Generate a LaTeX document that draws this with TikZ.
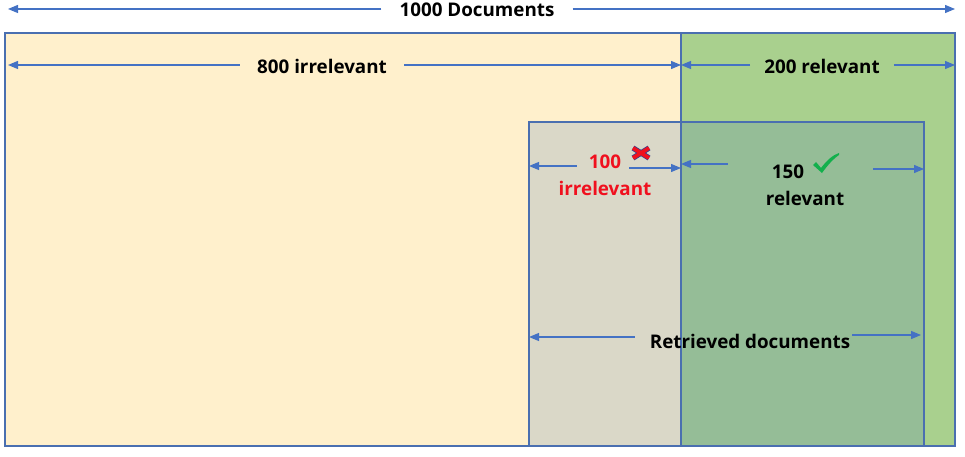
\documentclass[tikz,border=0pt]{standalone}
\usepackage{fontspec}
\setmainfont{Open Sans}
\usetikzlibrary{arrows.meta}
\definecolor{paleyellow}{HTML}{FFF0CC}
\definecolor{relgreen}{HTML}{A9D08E}
\definecolor{retgray}{HTML}{DAD8C8}
\definecolor{retgreen}{HTML}{95BD97}
\definecolor{edgeblue}{HTML}{4A6FB0}
\definecolor{arrowblue}{HTML}{4472C4}
\definecolor{xred}{HTML}{F0101E}
\definecolor{xshade}{HTML}{3A3F8A}
\definecolor{tickgreen}{HTML}{12B04C}
\tikzset{
  region/.style={draw=edgeblue, line width=1.2pt},
  dim/.style={draw=arrowblue, line width=1.2pt, -{Triangle[length=10pt,width=8pt]}},
  lbl/.style={font=\bfseries\fontsize{18.8}{21}\selectfont, text=black, inner ysep=0pt, inner xsep=17pt},
  redlbl/.style={font=\bfseries\fontsize{18.8}{21}\selectfont, text=xred, inner sep=0pt},
}
\begin{document}
\begin{tikzpicture}[x=1pt, y=-1pt]
\useasboundingbox (0,0) rectangle (965,457);
% collection areas
\fill[paleyellow] (5,33) rectangle (681,446);
\fill[relgreen] (681,33) rectangle (955,446);
\fill[retgray] (529,122) rectangle (681,446);
\fill[retgreen] (681,122) rectangle (924,446);
\draw[region] (5,33) rectangle (955,446);
\draw[region] (681,33) -- (681,446);
\draw[region] (529,122) rectangle (924,446);

% arrow end points
\coordinate (allL) at (8,9);
\coordinate (allR) at (955,9);
\coordinate (irrL) at (8,65);
\coordinate (irrR) at (681,65);
\coordinate (relL) at (681,65);
\coordinate (relR) at (955,65);
\coordinate (rirL) at (529,166);
\coordinate (rirR) at (681,168);
\coordinate (rrlL) at (681,164);
\coordinate (rrlR) at (924,169);
\coordinate (retL) at (529,337);
\coordinate (retR) at (921,335);

% labels
\node[lbl, inner xsep=18pt] (all) at (477,10) {1000 Documents};
\node[lbl] (irr) at (322,66) {800 irrelevant};
\node[lbl, inner xsep=14pt] (rel) at (822,66) {200 relevant};
\node[lbl, inner xsep=0pt] (ret) at (750,341) {Retrieved documents};
\node[redlbl] (hundred) at (605,162) {100};
\node[redlbl] (irrtxt) at (605,188) {irrelevant};
\node[lbl, inner xsep=0pt] (onefifty) at (788,172) {150};
\node[lbl, inner xsep=0pt] (reltxt) at (805,198) {relevant};

% dimension arrows
\draw[dim] (all.west |- allL) -- (allL);
\draw[dim] (all.east |- allR) -- (allR);
\draw[dim] (irr.west |- irrL) -- (irrL);
\draw[dim] (irr.east |- irrR) -- (irrR);
\draw[dim] (rel.west |- relL) -- (relL);
\draw[dim] (rel.east |- relR) -- (relR);
\draw[dim] ([xshift=-12pt]hundred.west |- rirL) -- (rirL);
\draw[dim] ([xshift=8pt]hundred.east |- rirR) -- (rirR);
\draw[dim] ([xshift=-44pt]onefifty.west |- rrlL) -- (rrlL);
\draw[dim] ([xshift=69pt]onefifty.east |- rrlR) -- (rrlR);
\draw[dim] ([xshift=-15pt]ret.west |- retL) -- (retL);
\draw[dim] ([xshift=2pt]ret.east |- retR) -- (retR);

% cross mark
\begin{scope}[shift={(641,153)}]
  \draw[xshade, line width=5.4pt] (-8,-5) -- (8,5) (-8,5) -- (8,-5);
  \draw[xred, line width=3.8pt] (-8,-5) -- (8,5) (-8,5) -- (8,-5);
\end{scope}
% tick mark
\begin{scope}[shift={(826,163)}]
  \fill[tickgreen] (-13,2) -- (-10,-1) -- (-5,5) .. controls (1,-3) and (7,-8) .. (13,-10)
    -- (13,-8) .. controls (7,-4) and (1,3) .. (-4,10) -- cycle;
\end{scope}
\end{tikzpicture}
\end{document}
